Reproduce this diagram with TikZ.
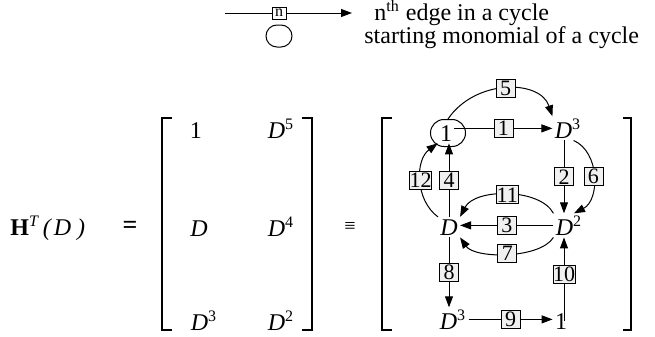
\documentclass[tikz,border=0pt]{standalone}
\usepackage{fontspec}
\setmainfont{Liberation Serif}
\usetikzlibrary{arrows.meta,shapes.misc,calc}
\begin{document}
\begin{tikzpicture}[x=0.5pt,y=-0.5pt,
  every node/.style={inner sep=1pt},
  txt/.style={anchor=base, font=\fontsize{12}{14}\selectfont},
  lbl/.style={draw, line width=0.4pt, fill=gray!12, minimum width=9.5pt, minimum height=9pt, inner sep=0pt, font=\fontsize{11}{12}\selectfont},
  conn/.style={line width=0.5pt, -{Triangle[length=5.5pt,width=4pt]}},
  plainline/.style={line width=0.5pt},
  brk/.style={line width=1pt, line join=miter}]
\useasboundingbox (0,0) rectangle (655,337);

% legend
\node[lbl, fill=white, minimum width=7pt, minimum height=6pt, font=\fontsize{8}{9}\selectfont] (ln) at (279,13) {n};
\coordinate (ls) at (225,13);
\coordinate (le) at (352,13);
\draw[plainline] (ls) -- (ln);
\draw[conn] (ln) -- (le);
\node[txt, anchor=base west] (t1) at (372,20) {n\textsuperscript{th} edge in a cycle};
\node[draw, line width=0.5pt, rounded rectangle, minimum width=15pt, minimum height=11pt] (lo) at (279,36) {};
\node[txt, anchor=base west] (t2) at (362,43) {starting monomial of a cycle};

% left side
\node[txt, anchor=base west] (h) at (8,235) {\textbf{H}\textsuperscript{\textit{T}}\hspace{1.5pt}\textit{(\hspace{1.5pt}D\hspace{3pt})}};
\node[font=\fontsize{13}{14}\selectfont\bfseries] (eq) at (130,227) {=};
\node[font=\fontsize{10}{12}\selectfont] (equiv) at (350,227) {≡};

% matrix brackets
\draw[brk] (172,118) -- (162,118) -- (162,330) -- (172,330);
\draw[brk] (302,118) -- (312,118) -- (312,330) -- (302,330);
\draw[brk] (392,118) -- (382,118) -- (382,330) -- (392,330);
\draw[brk] (623,118) -- (631,118) -- (631,330) -- (623,330);

% matrix entries
\node[txt] (m11) at (196,138) {1};
\node[txt] (m12) at (281,138) {\textit{D}\textsuperscript{5}};
\node[txt] (m21) at (199,236) {\textit{D}};
\node[txt] (m22) at (281,236) {\textit{D}\textsuperscript{4}};
\node[txt] (m31) at (204,330) {\textit{D}\textsuperscript{3}};
\node[txt] (m32) at (281,330) {\textit{D}\textsuperscript{2}};

% graph nodes
\node[txt] (g1) at (446,141) {1};
\node[draw, line width=0.5pt, rounded rectangle, minimum width=19.5pt, minimum height=13.5pt] (s1) at (448,133) {};
\node[txt] (g2) at (568,138) {\textit{D}\textsuperscript{3}};
\node[txt] (g3) at (449,235) {\textit{D}};
\node[txt] (g4) at (569,235) {\textit{D}\textsuperscript{2}};
\node[txt] (g5) at (453,329) {\textit{D}\textsuperscript{3}};
\node[txt] (g6) at (561,329) {1};
\coordinate (cL) at (449,0);
\coordinate (cR) at (564,0);

% edges
\draw[conn] (g1.east |- g2.west) -- node[lbl]{1} (g2.west);
\draw[conn] (g2.south -| cR) -- node[lbl]{2} (g4.north -| cR);
\draw[conn] (g4.west) -- node[lbl]{3} (g3.east |- g4.west);
\draw[conn] (g3.north) -- node[lbl]{4} (g3.north |- g1.south);
\draw[conn] (s1.north) .. controls (475,79) and (540,79) .. node[lbl]{5} (g2.north west);
\draw[conn] ($(g2.south east)+(-10,0)$) .. controls (600,152) and (600,200) .. node[lbl]{6} ($(g4.north)+(5,0)$);
\draw[conn] (g4.south west) .. controls (540,259) and (475,259) .. node[lbl]{7} (g3.south east);
\draw[conn] (g3.south) -- node[lbl]{8} (g5.north -| cL);
\draw[conn] (g5.east) -- node[lbl]{9} (g6.west |- g5.east);
\draw[conn] (g6.center -| cR) -- node[lbl, pos=0.56]{10} (g4.south -| cR);
\draw[conn] (g4.north west) .. controls (540,188) and (475,188) .. node[lbl]{11} (g3.north east);
\draw[conn] (g3.north west) .. controls (415,200) and (415,160) .. node[lbl]{12} (g1.south west);
\end{tikzpicture}
\end{document}
